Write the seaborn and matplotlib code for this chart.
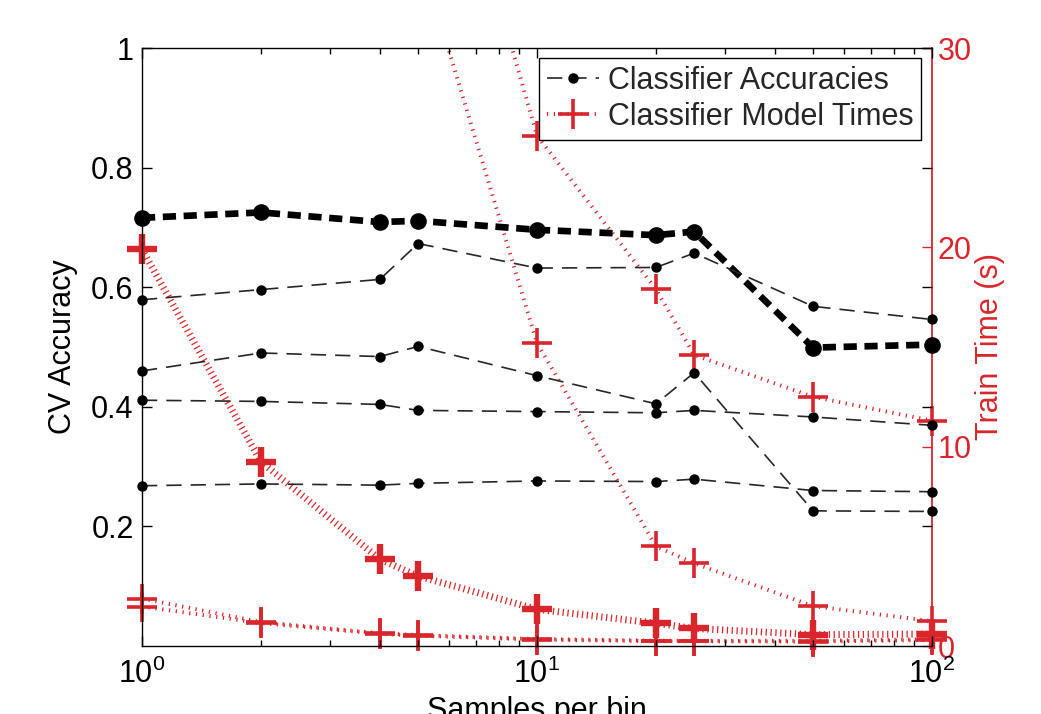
import numpy as np
import pandas as pd
import matplotlib
matplotlib.use("Agg")
import matplotlib.pyplot as plt
import seaborn as sns
from matplotlib.ticker import FixedLocator, LogLocator, NullFormatter

# ---------------- data ----------------
samples = [1, 2, 4, 5, 10, 20, 25, 50, 100]

acc_best = [0.716, 0.725, 0.709, 0.711, 0.696, 0.687, 0.693, 0.499, 0.504]
acc_b = [0.579, 0.596, 0.613, 0.673, 0.632, 0.633, 0.657, 0.568, 0.546]
acc_c = [0.460, 0.490, 0.484, 0.501, 0.452, 0.405, 0.457, 0.226, 0.225]
acc_d = [0.411, 0.409, 0.404, 0.394, 0.392, 0.390, 0.394, 0.383, 0.369]
acc_e = [0.268, 0.271, 0.269, 0.272, 0.276, 0.275, 0.279, 0.260, 0.258]

time_best = [19.9, 9.25, 4.35, 3.51, 1.84, 1.14, 0.88, 0.57, 0.60]
time_b = [190.0, 110.0, 60.0, 46.5, 25.6, 17.9, 14.6, 12.5, 11.3]
time_c = [150.0, 80.0, 42.0, 35.0, 15.2, 5.0, 4.15, 2.0, 1.25]
time_d = [2.38, 1.20, 0.64, 0.55, 0.35, 0.27, 0.26, 0.26, 0.34]
time_e = [1.98, 1.15, 0.61, 0.52, 0.32, 0.24, 0.24, 0.22, 0.30]

acc_ticks = [0.2, 0.4, 0.6, 0.8, 1.0]
acc_ticklabels = ["0.2", "0.4", "0.6", "0.8", "1"]
time_ticks = [0, 10, 20, 30]
time_ticklabels = ["0", "10", "20", "30"]
x_ticks = [1, 10, 100]
x_ticklabels = [r"$\mathregular{10^0}$", r"$\mathregular{10^1}$", r"$\mathregular{10^2}$"]

label_acc = "Classifier Accuracies"
label_time = "Classifier Model Times"

# ---------------- style ----------------
sns.set_theme(style="white")
plt.rcParams["font.family"] = ["Liberation Sans", "DejaVu Sans"]
plt.rcParams["mathtext.default"] = "regular"
plt.rcParams["lines.scale_dashes"] = False

RED = "#d8262c"
FS = 22

fig = plt.figure(figsize=(10.41, 7.14), dpi=100)
ax = fig.add_axes([142 / 1041, 1 - 646 / 714, 790 / 1041, 598 / 714])
ax.set_xscale("log")
ax2 = ax.twinx()

# ---------------- time series (right axis) ----------------
time_series = [time_best, time_b, time_c, time_d, time_e]
for i, t in enumerate(time_series):
    thick = i == 0
    df = pd.DataFrame({"samples": samples, "time": t})
    sns.lineplot(data=df, x="samples", y="time", ax=ax2, color=RED,
                 linewidth=5.0 if thick else 2.8,
                 linestyle=(0, (0.9, 2.6)) if thick else (0, (0.9, 4.0)),
                 marker="+", markersize=21,
                 markeredgewidth=4.6 if thick else 2.6,
                 markeredgecolor=RED, alpha=1.0,
                 errorbar=None, sort=False,
                 label=label_time if i == 1 else None, legend=False)

# ---------------- accuracy series (left axis) ----------------
acc_series = [acc_best, acc_b, acc_c, acc_d, acc_e]
for i, a in enumerate(acc_series):
    thick = i == 0
    df = pd.DataFrame({"samples": samples, "acc": a})
    sns.lineplot(data=df, x="samples", y="acc", ax=ax,
                 color="black" if thick else "#262626",
                 linewidth=4.8 if thick else 1.2,
                 linestyle=(0, (9.5, 5.5)) if thick else (0, (11, 6.5)),
                 marker="o", markersize=12 if thick else 7.5,
                 markeredgewidth=0, markerfacecolor="black",
                 errorbar=None, sort=False,
                 label=label_acc if i == 1 else None, legend=False)

# axes limits / scales
ax.set_xlim(1, 100)
ax.set_ylim(0, 1)
ax2.set_ylim(0, 30)

# clip lines to a box a bit wider than the axes (markers on edges stay whole)
for a_ in (ax, ax2):
    for ln in a_.lines:
        rect = plt.Rectangle((-0.05, -0.08), 1.10, 1.08, transform=a_.transAxes,
                             facecolor="none", edgecolor="none")
        ln.set_clip_path(rect)

# layering: accuracy axes on top
ax.set_zorder(ax2.get_zorder() + 1)
ax.patch.set_visible(False)

# ticks
ax.xaxis.set_major_locator(FixedLocator(x_ticks))
ax.set_xticklabels(x_ticklabels)
ax.xaxis.set_minor_locator(LogLocator(base=10, subs=np.arange(2, 10)))
ax.xaxis.set_minor_formatter(NullFormatter())
ax.set_yticks(acc_ticks)
ax.set_yticklabels(acc_ticklabels)
ax2.set_yticks(time_ticks)
ax2.set_yticklabels(time_ticklabels)

ax.tick_params(axis="x", which="both", direction="in", bottom=True, top=True,
               colors="black", labelsize=FS)
ax.tick_params(axis="x", which="major", length=7, width=1, pad=9)
ax.tick_params(axis="x", which="minor", length=4, width=1)
ax.tick_params(axis="y", which="major", direction="in", left=True, right=True,
               labelleft=True, labelright=False, length=7, width=1, pad=6,
               colors="black", labelsize=FS)
ax2.tick_params(axis="y", which="major", direction="in", right=True, left=False,
                length=7, width=1, pad=4, colors=RED, labelsize=FS)

# spines
for s in ["left", "top", "bottom"]:
    ax.spines[s].set_color("black")
    ax.spines[s].set_linewidth(1.0)
    ax.spines[s].set_visible(True)
ax.spines["right"].set_visible(False)
for s in ["left", "top", "bottom"]:
    ax2.spines[s].set_visible(False)
ax2.spines["right"].set_visible(True)
ax2.spines["right"].set_color(RED)
ax2.spines["right"].set_linewidth(1.3)

# labels
ax.set_ylabel("CV Accuracy", fontsize=FS, color="black")
ax.yaxis.set_label_coords(-0.081, 0.5)
ax2.set_ylabel("Train Time (s)", fontsize=FS, color=RED)
ax2.yaxis.set_label_coords(1.054, 0.5)
ax.set_xlabel("Samples per bin", fontsize=FS, color="black")
ax.xaxis.set_label_coords(0.5, -0.083)

ax.grid(False)
ax2.grid(False)

# legend
h_acc = ax.lines[1]
h_time = ax2.lines[1]
leg = ax.legend(handles=[h_acc, h_time], labels=[label_acc, label_time],
                loc="upper right", bbox_to_anchor=(0.986, 0.983),
                frameon=True, fancybox=False, framealpha=1, edgecolor="black",
                fontsize=FS, handlelength=1.7, handletextpad=0.3,
                borderpad=0.25, labelspacing=0.2, borderaxespad=0)
leg.get_frame().set_linewidth(1.0)
leg.set_zorder(20)

fig.savefig("out.png", dpi=100)
